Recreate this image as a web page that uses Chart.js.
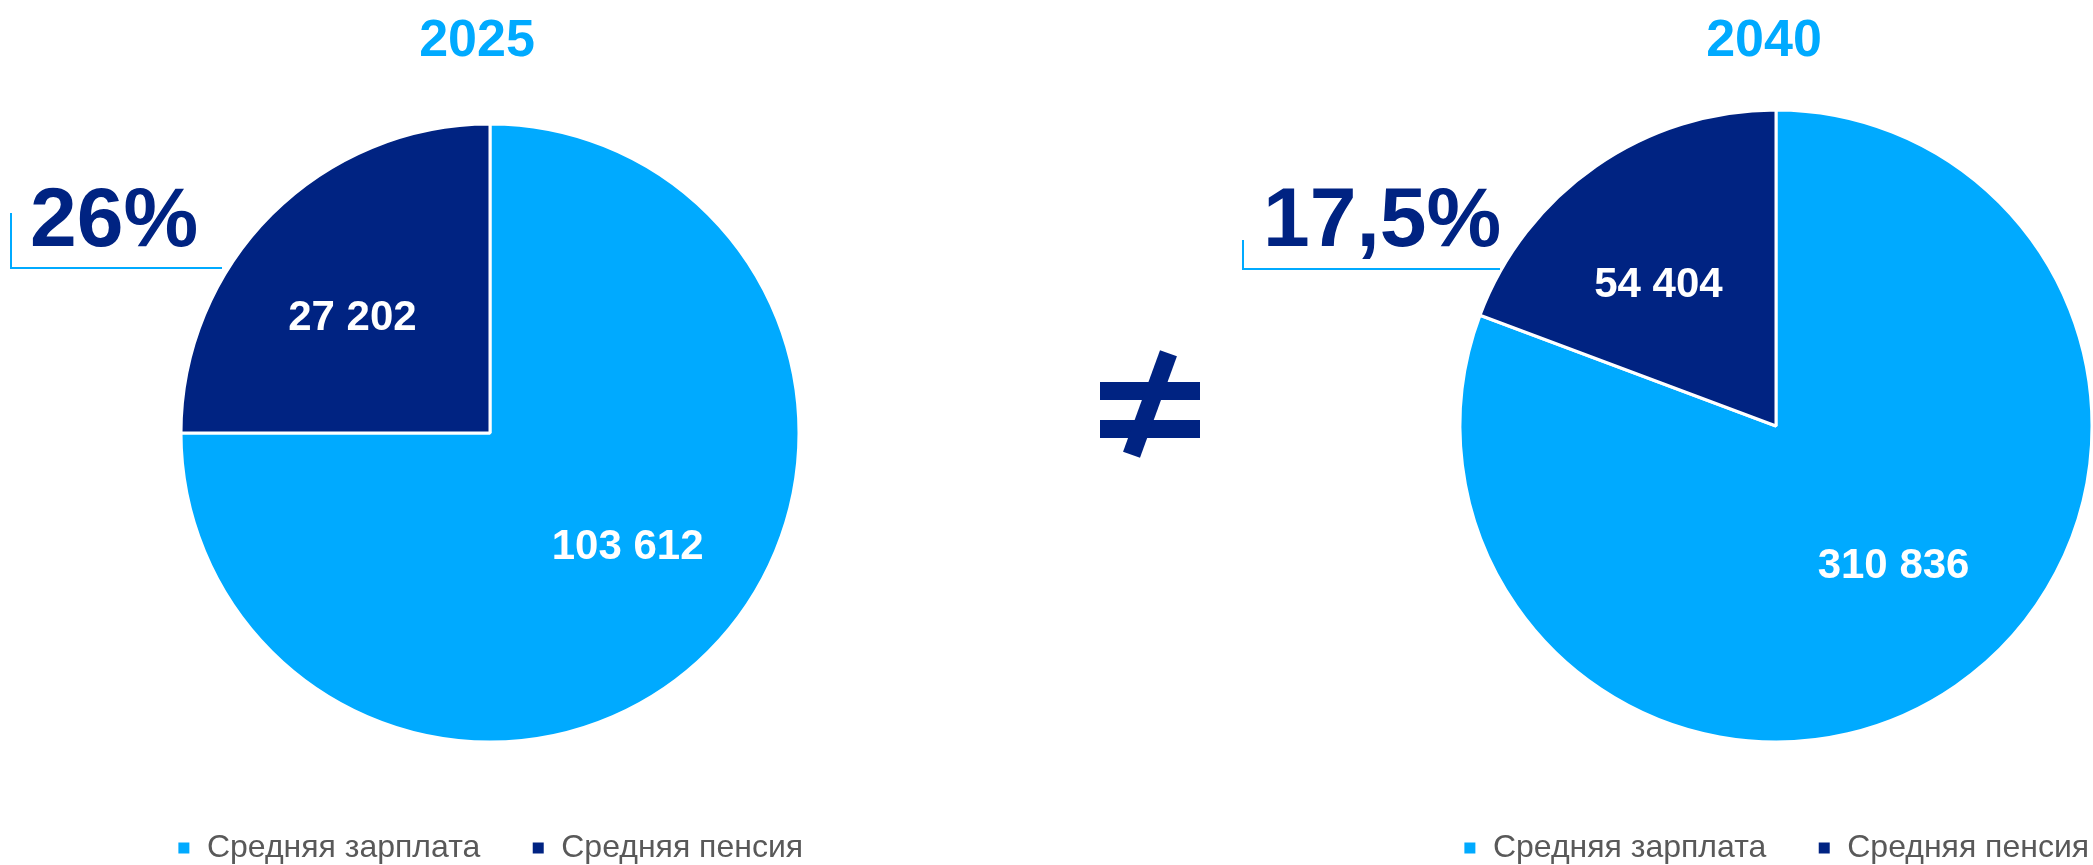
<!DOCTYPE html>
<html lang="ru">
<head>
<meta charset="utf-8">
<title>Средняя зарплата и средняя пенсия: 2025 и 2040</title>
<script src="https://cdn.jsdelivr.net/npm/chart.js@4/dist/chart.umd.min.js"></script>
<style>
  html, body { margin: 0; padding: 0; background: #ffffff; width: 2093px; height: 865px; overflow: hidden; }
  body { position: relative; font-family: "Liberation Sans", Arial, sans-serif; }
  .chartbox { position: absolute; top: 0; height: 874px; }
  #box2025 { left: 0; width: 980px; }
  #box2040 { left: 1396px; width: 760px; }
  .year { position: absolute; width: 300px; text-align: center; font-weight: bold; font-size: 52px; line-height: 52px; color: #00AAFF; }
  .ratio { position: absolute; font-weight: bold; font-size: 84px; line-height: 84px; color: #002382; white-space: nowrap; }
  .bracket { position: absolute; border-left: 2px solid #00AAFF; border-bottom: 2px solid #00AAFF; box-sizing: border-box; }
  .neq { position: absolute; left: 1100px; top: 350px; width: 100px; height: 108px; }
  .neq .bar { position: absolute; left: 0; width: 100px; height: 18px; background: #002382; }
  .neq .slash { position: absolute; left: 41px; top: 0; width: 18px; height: 108px; background: #002382; transform: rotate(20deg); }
  .sr { position: absolute; width: 1px; height: 1px; overflow: hidden; clip: rect(0 0 0 0); }
</style>
</head>
<body>
<div class="chartbox" id="box2025"><canvas id="pie2025"></canvas></div>
<div class="chartbox" id="box2040"><canvas id="pie2040"></canvas></div>

<div class="year" id="year2025" style="left:327px; top:12px;"></div>
<div class="year" id="year2040" style="left:1614px; top:12px;"></div>

<div class="bracket" style="left:10px; top:213px; width:212px; height:56px;"></div>
<div class="ratio" id="ratio2025" style="left:30px; top:175px;"></div>
<div class="bracket" style="left:1242px; top:240px; width:258px; height:30px;"></div>
<div class="ratio" id="ratio2040" style="left:1263px; top:175px;"></div>

<div class="neq" aria-label="≠" title="≠">
  <div class="bar" style="top:32px;"></div>
  <div class="bar" style="top:70px;"></div>
  <div class="slash"></div>
  <span class="sr">≠</span>
</div>

<script>
// ---- data ----
const categories = ['Средняя зарплата', 'Средняя пенсия'];
const years = ['2025', '2040'];
const values2025 = [103612, 27202];      // rubles, as labelled on the slices
const values2040 = [310836, 54404];
const sliceShares2025 = [75, 25];         // share of the pie as drawn (%)
const sliceShares2040 = [80.7, 19.3];
const ratioLabels = ['26%', '17,5%'];     // pension / wage ratio captions

// ---- styles ----
const LIGHT = '#00AAFF';
const NAVY = '#002382';
const FONT = '"Liberation Sans", Arial, sans-serif';

document.getElementById('year2025').textContent = years[0];
document.getElementById('year2040').textContent = years[1];
document.getElementById('ratio2025').textContent = ratioLabels[0];
document.getElementById('ratio2040').textContent = ratioLabels[1];

function fmt(n) {
  return String(n).replace(/\B(?=(\d{3})+(?!\d))/g, ' ');
}

const sliceLabels = {
  id: 'sliceLabels',
  afterDatasetsDraw(chart, args, opts) {
    const ctx = chart.ctx;
    const meta = chart.getDatasetMeta(0);
    const vals = opts.values || [];
    ctx.save();
    ctx.font = 'bold 42px ' + FONT;
    ctx.fillStyle = '#ffffff';
    ctx.textAlign = 'center';
    ctx.textBaseline = 'middle';
    meta.data.forEach((arc, i) => {
      const p = arc.getProps(['x', 'y', 'startAngle', 'endAngle', 'outerRadius'], true);
      const mid = (p.startAngle + p.endAngle) / 2 - 0.09;
      const r = p.outerRadius * 0.58;
      ctx.fillText(fmt(vals[i]), p.x + Math.cos(mid) * r, p.y + Math.sin(mid) * r);
    });
    ctx.restore();
  }
};

function makePie(canvasId, shares, values, radius, padTop) {
  return new Chart(document.getElementById(canvasId), {
    type: 'pie',
    data: {
      labels: categories,
      datasets: [{
        data: shares,
        backgroundColor: [LIGHT, NAVY],
        borderColor: '#ffffff',
        borderWidth: 3,
        radius: radius
      }]
    },
    options: {
      responsive: true,
      maintainAspectRatio: false,
      animation: false,
      layout: { padding: { top: padTop, left: 0, right: 0, bottom: 0 } },
      plugins: {
        tooltip: { enabled: false },
        title: { display: false },
        sliceLabels: { values: values },
        legend: {
          display: true,
          position: 'bottom',
          align: 'center',
          labels: {
            boxWidth: 14,
            boxHeight: 14,
            padding: 51,
            color: '#595959',
            font: { family: FONT, size: 32 }
          }
        }
      }
    },
    plugins: [sliceLabels]
  });
}

makePie('pie2025', sliceShares2025, values2025, 309, 85);
makePie('pie2040', sliceShares2040, values2040, 316, 71);
</script>
</body>
</html>
